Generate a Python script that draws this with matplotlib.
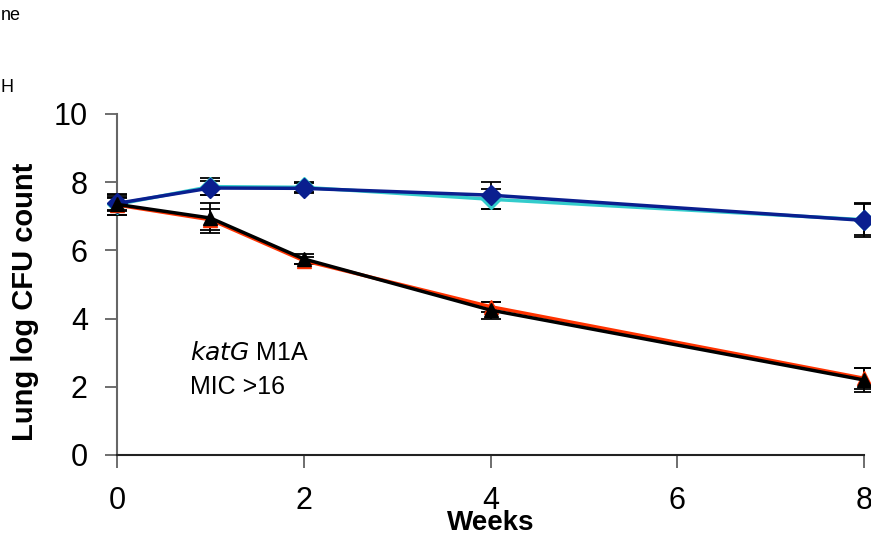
import numpy as np
import matplotlib.pyplot as plt

plt.rcParams['font.family'] = ['Liberation Sans', 'DejaVu Sans']

# data
weeks = [0, 1, 2, 4, 8]

cyan_vals = [7.35, 7.87, 7.85, 7.5, 6.9]
cyan_err = [0.2, 0.25, 0.15, 0.3, 0.45]

blue_vals = [7.38, 7.83, 7.82, 7.62, 6.88]
blue_err = [0.2, 0.2, 0.15, 0.4, 0.5]

red_vals = [7.33, 6.9, 5.7, 4.35, 2.25]
red_err = [0.3, 0.3, 0.1, 0.15, 0.3]

black_vals = [7.35, 6.95, 5.75, 4.25, 2.2]
black_err = [0.3, 0.45, 0.15, 0.25, 0.35]

x_ticks = [0, 2, 4, 6, 8]
y_ticks = [0, 2, 4, 6, 8, 10]

fig = plt.figure(figsize=(8.71, 5.4), dpi=100)
ax = fig.add_axes([117/871, 1-455/540, (864-117)/871, (455-114)/540])

series = [
    (cyan_vals, cyan_err, '#33CCCC', 'D'),
    (blue_vals, blue_err, '#0A1F8F', 'D'),
    (red_vals, red_err, '#FF3300', '^'),
    (black_vals, black_err, '#000000', '^'),
]
for vals, err, col, mk in series:
    ax.errorbar(weeks, vals, yerr=err, color=col, ecolor='black', elinewidth=1.3,
                capsize=7, capthick=1.3, marker=mk, markersize=10, lw=2.5,
                markeredgecolor=col, clip_on=False, zorder=3)

ax.set_xlim(0, 8)
ax.set_ylim(0, 10)
ax.set_xticks(x_ticks)
ax.set_yticks(y_ticks)
ax.tick_params(axis='both', direction='out', length=9, width=1.2, colors='#555555',
               labelcolor='black', labelsize=22, pad=12)
ax.tick_params(axis='x', pad=13)
for s in ['top', 'right']:
    ax.spines[s].set_visible(False)
ax.spines['left'].set_color('#666666')
ax.spines['bottom'].set_color('#222222')
ax.spines['left'].set_linewidth(1.5)
ax.spines['bottom'].set_linewidth(1.5)

ax.set_xlabel('Weeks', fontsize=20, fontweight='bold', labelpad=-4)
ax.set_ylabel('Lung log CFU count', fontsize=21, fontweight='bold')
ax.yaxis.set_label_coords(-0.105, 0.45)

ax.text(0.78, 3.0, r'$\it{katG}$ M1A', fontsize=18, va='center')
ax.text(0.78, 2.0, 'MIC >16', fontsize=18, va='center')

# cut-off legend fragments at the top-left corner
fig.text(0.001, 1-16/540, 'ne', fontsize=13, va='center', ha='left')
fig.text(0.001, 1-88/540, 'H', fontsize=13, va='center', ha='left')

fig.savefig('out.png', dpi=100)
